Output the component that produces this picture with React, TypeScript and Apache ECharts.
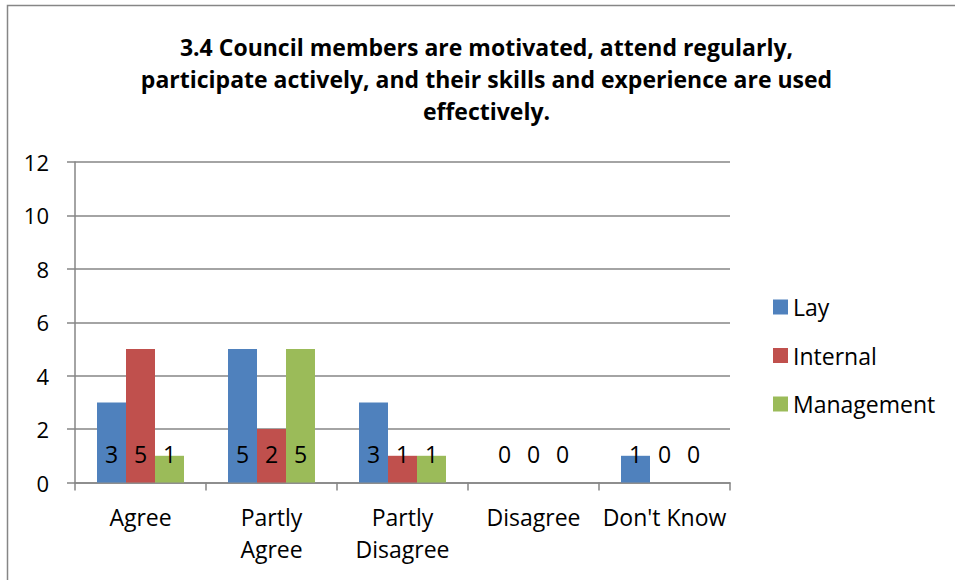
import React, { useEffect, useRef } from "react";
import * as echarts from "echarts";

const categories = ["Agree", "Partly\nAgree", "Partly\nDisagree", "Disagree", "Don't Know"];
const seriesNames = ["Lay", "Internal", "Management"];
const layValues = [3, 5, 3, 0, 1];
const internalValues = [5, 2, 1, 0, 0];
const managementValues = [1, 5, 1, 0, 0];
const colors = ["#4F81BD", "#C0504D", "#9BBB59"];
const titleText =
  "3.4 Council members are motivated, attend regularly,\nparticipate actively, and their skills and experience are used\neffectively.";

const FONT = "'Open Sans', 'Liberation Sans', sans-serif";
const GRAY = "#868686";

export default function App() {
  const ref = useRef<HTMLDivElement>(null);
  useEffect(() => {
    if (!ref.current) return;
    const chart = echarts.init(ref.current, null, { renderer: "svg" });
    const values = [layValues, internalValues, managementValues];
    chart.setOption({
      animation: false,
      backgroundColor: "#ffffff",
      textStyle: { fontFamily: FONT },
      graphic: [
        {
          type: "rect",
          z: -10,
          shape: { x: 7.5, y: 5.5, width: 1000, height: 700 },
          style: { fill: "none", stroke: GRAY, lineWidth: 1.5 },
        },
        {
          type: "text",
          x: 486.5,
          y: 31,
          style: {
            text: titleText,
            fontFamily: FONT,
            fontWeight: "bold",
            fontSize: 23,
            lineHeight: 32,
            fill: "#000000",
            textAlign: "center",
            textVerticalAlign: "top",
          },
        },
      ],
      legend: {
        orient: "vertical",
        left: 773,
        top: 295,
        padding: 0,
        icon: "rect",
        itemWidth: 15,
        itemHeight: 15,
        itemGap: 24.5,
        data: seriesNames,
        textStyle: { fontSize: 23, color: "#000", lineHeight: 24, fontFamily: FONT },
      },
      grid: { left: 75, right: 225, top: 162, bottom: 97.5, containLabel: false },
      xAxis: {
        type: "category",
        data: categories,
        axisLine: { lineStyle: { color: GRAY, width: 1.5 } },
        axisTick: { show: true, length: 8, lineStyle: { color: GRAY, width: 1.5 } },
        axisLabel: {
          color: "#000",
          fontSize: 23,
          lineHeight: 32,
          margin: 18,
          interval: 0,
          fontFamily: FONT,
        },
      },
      yAxis: {
        type: "value",
        min: 0,
        max: 12,
        interval: 2,
        axisLine: { show: true, lineStyle: { color: GRAY, width: 1.5 } },
        axisTick: { show: true, length: 8, lineStyle: { color: GRAY, width: 1.5 } },
        splitLine: { lineStyle: { color: GRAY, width: 1.5 } },
        axisLabel: { color: "#000", fontSize: 22, margin: 26, fontFamily: FONT },
      },
      series: seriesNames.map((name, i) => ({
        name,
        type: "bar",
        data: values[i],
        barGap: "0%",
        barCategoryGap: "33.6%",
        itemStyle: { color: colors[i] },
        label: {
          show: true,
          position: "insideBottom",
          distance: 17,
          color: "#000",
          fontSize: 23,
          fontFamily: FONT,
        },
      })),
    });
    return () => chart.dispose();
  }, []);
  return (
    <div
      ref={ref}
      style={{ position: "fixed", left: 0, top: 0, width: 955, height: 580 }}
    />
  );
}
